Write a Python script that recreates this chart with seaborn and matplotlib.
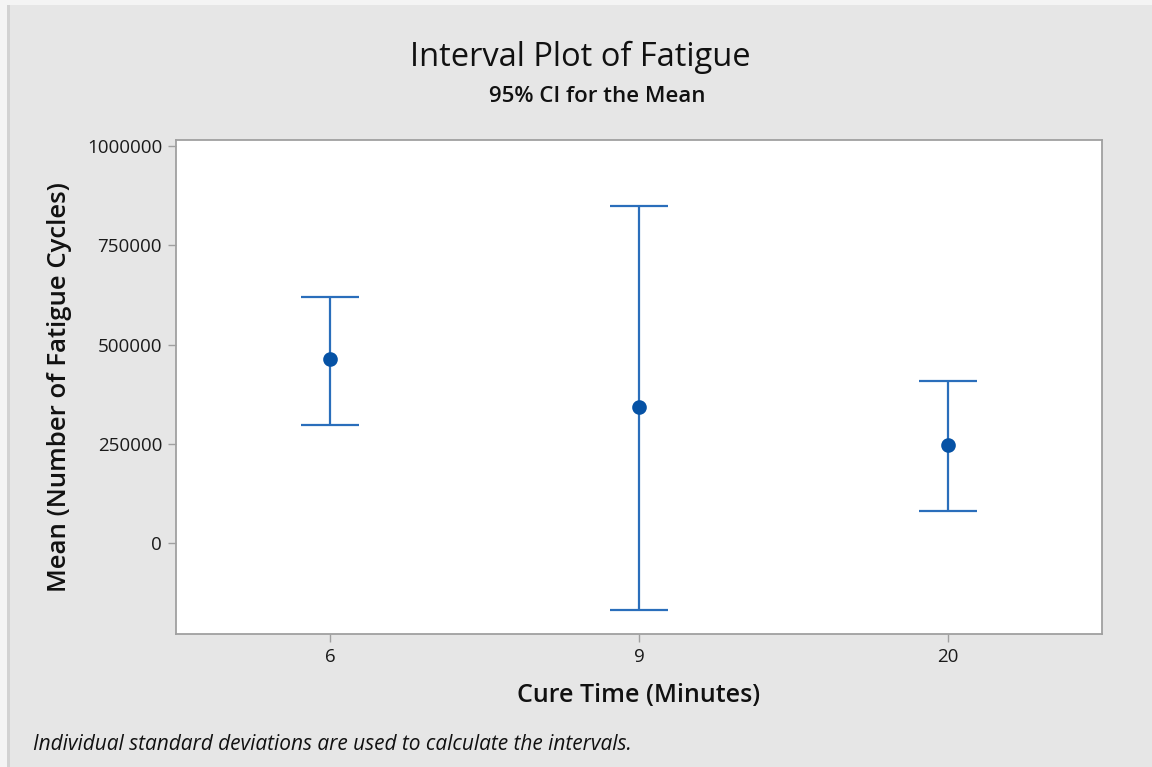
import matplotlib
matplotlib.use("Agg")
import matplotlib.pyplot as plt
import matplotlib.patches as mpatches
import seaborn as sns
import pandas as pd
import numpy as np

cure_times = ["6", "9", "20"]
means = [463500, 342600, 246900]
ci_lower = [297200, -168800, 80600]
ci_upper = [619600, 848900, 408100]
yticks = [0, 250000, 500000, 750000, 1000000]

df = pd.DataFrame({"Cure Time": cure_times, "Mean": means,
                   "Lower": ci_lower, "Upper": ci_upper})

sns.set_theme(style="white")
plt.rcParams['font.family'] = ['Open Sans', 'DejaVu Sans']

bg = "#e6e6e6"
line_c = "#2a6ebb"
pt_c = "#0652a5"
spine_c = "#a0a0a0"

fig = plt.figure(figsize=(11.52, 7.67), dpi=100, facecolor=bg)
# thin light frame at top/left as in the reference screenshot
fig.patches.append(mpatches.Rectangle((0, 1 - 5/767), 1, 5/767, transform=fig.transFigure,
                                      facecolor="#f4f4f4", edgecolor="none", zorder=0))
fig.patches.append(mpatches.Rectangle((0, 0), 7/1152, 1 - 5/767, transform=fig.transFigure,
                                      facecolor="#f4f4f4", edgecolor="none", zorder=0))
fig.patches.append(mpatches.Rectangle((7/1152, 0), 3/1152, 1 - 5/767, transform=fig.transFigure,
                                      facecolor="#d2d2d2", edgecolor="none", zorder=0))

ax = fig.add_axes([176/1152, 1-634/767, (1102-176)/1152, (634-140)/767])
ax.set_facecolor("white")

x = np.arange(len(cure_times))
yerr = [np.array(means) - np.array(ci_lower), np.array(ci_upper) - np.array(means)]
ax.errorbar(x, means, yerr=yerr, fmt="none", ecolor=line_c, elinewidth=1.6,
            capsize=21, capthick=1.6, zorder=2)
sns.pointplot(data=df, x="Cure Time", y="Mean", order=cure_times, color=pt_c,
              linestyle="none", errorbar=None, markers="o", markersize=8.5,
              ax=ax, zorder=3)

ax.set_xlim(-0.5, 2.5)
ax.set_ylim(-229000, 1015000)
ax.set_yticks(yticks)
ax.set_yticklabels([str(v) for v in yticks])
ax.set_xticks(x)
ax.set_xticklabels(cure_times)

for s in ax.spines.values():
    s.set_color(spine_c)
    s.set_linewidth(1.3)
ax.tick_params(axis="both", which="both", direction="out", length=6, width=1,
               color=spine_c, labelsize=13.5, labelcolor="#1a1a1a", pad=4,
               left=True, bottom=True)

ax.set_xlabel("Cure Time (Minutes)", fontsize=18, fontweight="semibold",
              color="#111111", labelpad=12)
ax.set_ylabel("Mean (Number of Fatigue Cycles)", fontsize=18.5, fontweight="semibold",
              color="#111111", labelpad=11)

fig.text(580/1152, 1-57/767, "Interval Plot of Fatigue", ha="center", va="center",
         fontsize=23.5, color="#111111")
fig.text(597/1152, 1-96/767, "95% CI for the Mean", ha="center", va="center",
         fontsize=16, fontweight="semibold", color="#111111")
fig.text(33/1152, 1-745/767, "Individual standard deviations are used to calculate the intervals.",
         ha="left", va="center", fontsize=15, style="italic", color="#111111")

fig.savefig("out.png", dpi=100, facecolor=bg)
